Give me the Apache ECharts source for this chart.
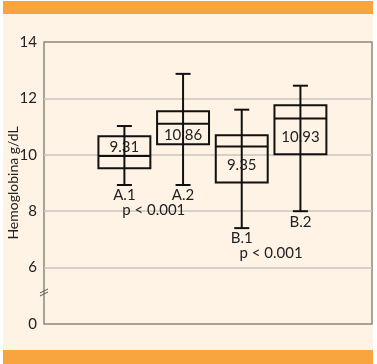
<!DOCTYPE html>
<html><head><meta charset="utf-8">
<script src="https://cdn.jsdelivr.net/npm/echarts@6/dist/echarts.min.js"></script>
<style>
html,body{margin:0;padding:0;background:#fff;width:377px;height:364px;overflow:hidden;}
#panel{position:absolute;left:3px;top:1px;width:370px;height:363px;background:#FEF3E5;}
#topbar{position:absolute;left:3px;top:1px;width:370px;height:13px;background:#F8A53F;}
#botbar{position:absolute;left:3px;top:350px;width:370px;height:14px;background:#F8A53F;}
#chart{position:absolute;left:0;top:0;width:377px;height:364px;}
</style></head>
<body>
<div id="panel"></div><div id="topbar"></div><div id="botbar"></div>
<div id="chart"></div>
<script>
// ---- data ----
const groups = ['A.1', 'A.2', 'B.1', 'B.2'];
const lowWhisker = [8.93, 8.93, 7.40, 8.00];
const q1 = [9.52, 10.37, 9.02, 10.02];
const medians = [9.96, 11.10, 10.29, 11.29];
const q3 = [10.66, 11.54, 10.69, 11.76];
const highWhisker = [11.02, 12.87, 11.60, 12.45];
const means = ['9.31', '10.86', '9.35', '10.93'];
const pLabels = ['p < 0.001', 'p < 0.001'];
const pPairs = [[0, 1], [2, 3]];
const yTicks = [4, 6, 8, 10, 12, 14];
const yTickLabels = ['0', '6', '8', '10', '12', '14'];
const axisBreakValue = 5.1;

const FONT = 'Lato';
const chart = echarts.init(document.getElementById('chart'), null, {renderer: 'canvas'});

const boxData = groups.map((g, i) => [i, lowWhisker[i], q1[i], medians[i], q3[i], highWhisker[i]]);

function renderBox(params, api) {
  const i = api.value(0);
  const pLow = api.coord([i, api.value(1)]);
  const pQ1 = api.coord([i, api.value(2)]);
  const pMed = api.coord([i, api.value(3)]);
  const pQ3 = api.coord([i, api.value(4)]);
  const pHigh = api.coord([i, api.value(5)]);
  const halfW = api.size([0.885, 0])[0] / 2;
  const capHalf = api.size([0.256, 0])[0] / 2;
  const cx = pMed[0];
  const st = {stroke: '#111', lineWidth: 2, fill: null};
  const upper = pMed[1] - pQ3[1];
  const lower = pQ1[1] - pMed[1];
  const ly = upper > lower ? (pQ3[1] + pMed[1]) / 2 : (pMed[1] + pQ1[1]) / 2;
  return {
    type: 'group',
    children: [
      {type: 'rect', shape: {x: cx - halfW, y: pQ3[1], width: 2 * halfW, height: pQ1[1] - pQ3[1]}, style: st},
      {type: 'line', shape: {x1: cx - halfW, y1: pMed[1], x2: cx + halfW, y2: pMed[1]}, style: st},
      {type: 'text', x: cx, y: ly + 1, style: {text: means[i], fill: '#222', font: '15px ' + FONT, align: 'center', verticalAlign: 'middle'}},
      {type: 'line', shape: {x1: cx, y1: pHigh[1], x2: cx, y2: pLow[1]}, style: st},
      {type: 'line', shape: {x1: cx - capHalf, y1: pHigh[1], x2: cx + capHalf, y2: pHigh[1]}, style: st},
      {type: 'line', shape: {x1: cx - capHalf, y1: pLow[1], x2: cx + capHalf, y2: pLow[1]}, style: st},
      {type: 'text', x: cx, y: pLow[1] + 3, style: {text: groups[i], fill: '#222', font: '15px ' + FONT, align: 'center', verticalAlign: 'top'}}
    ]
  };
}

function renderP(params, api) {
  const k = api.value(0);
  const [a, b] = pPairs[k];
  const pa = api.coord([a, lowWhisker[a]]);
  const pb = api.coord([b, lowWhisker[b]]);
  const x = (pa[0] + pb[0]) / 2;
  const y = Math.max(pa[1], pb[1]) + 18;
  return {type: 'text', x: x, y: y, style: {text: pLabels[k], fill: '#222', font: '15px ' + FONT, align: 'center', verticalAlign: 'top'}};
}

function renderBreak(params, api) {
  const x = params.coordSys.x;
  const y = api.coord([0, api.value(0)])[1];
  const st = {stroke: '#555', lineWidth: 1};
  return {type: 'group', children: [
    {type: 'line', shape: {x1: x - 4, y1: y, x2: x + 4, y2: y - 4}, style: st},
    {type: 'line', shape: {x1: x - 4, y1: y + 3, x2: x + 4, y2: y - 1}, style: st}
  ]};
}

chart.setOption({
  animation: false,
  backgroundColor: 'transparent',
  grid: {left: 44, right: 5, top: 42, bottom: 40, outerBoundsMode: 'none', containLabel: false,
    show: true, borderColor: '#8C897E', borderWidth: 1.5, backgroundColor: 'transparent'},
  xAxis: {type: 'value', min: -1.37, max: 4.22, show: false},
  yAxis: {
    type: 'value', min: 4, max: 14, interval: 2,
    name: 'Hemoglobina g/dL', nameLocation: 'middle', nameGap: 24, nameRotate: 90, nameMoveOverlap: false,
    nameTextStyle: {fontFamily: FONT, fontSize: 14, color: '#222'},
    axisLine: {show: false}, axisTick: {show: false},
    axisLabel: {margin: 7, fontFamily: FONT, fontSize: 15, color: '#222',
      formatter: v => yTickLabels[yTicks.indexOf(v)]},
    splitLine: {show: true, showMinLine: false, showMaxLine: false, lineStyle: {color: '#C8C5BE', width: 1.5}}
  },
  series: [
    {type: 'custom', renderItem: renderBox, data: boxData, encode: {x: 0, y: [1, 5]}, clip: false, z: 3},
    {type: 'custom', renderItem: renderP, data: pPairs.map((p, k) => [k]), clip: false, z: 3},
    {type: 'custom', renderItem: renderBreak, data: [[axisBreakValue]], clip: false, z: 4}
  ]
});
</script>
</body></html>
